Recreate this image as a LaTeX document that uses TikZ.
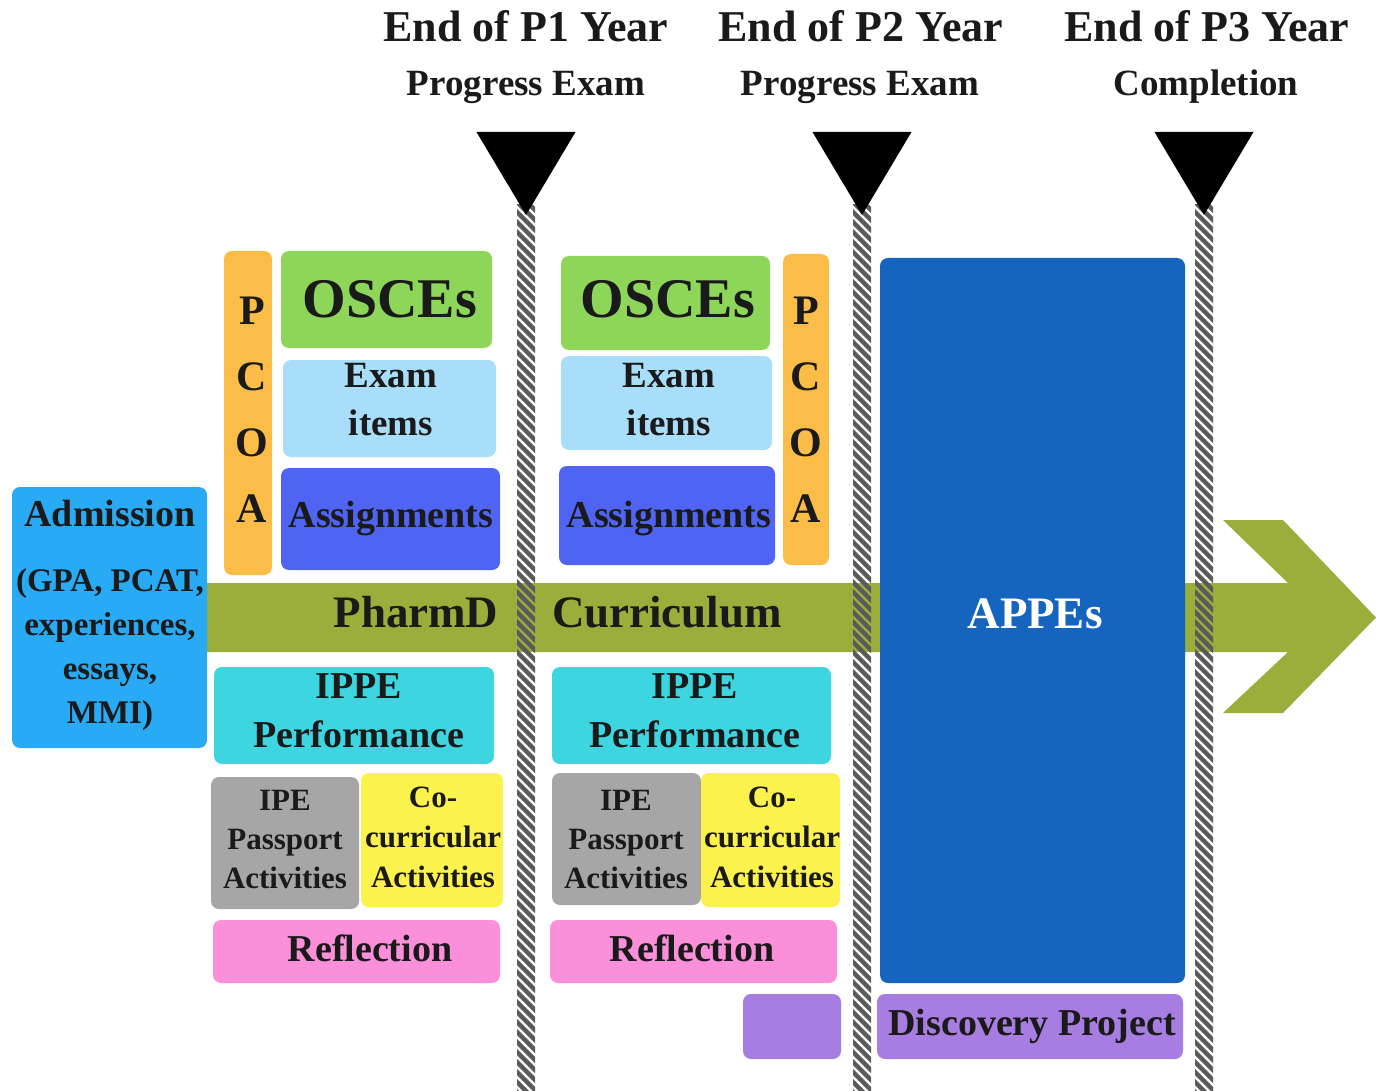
\documentclass[tikz,border=0pt]{standalone}
\usepackage{fontspec}
\setmainfont{Liberation Serif}
\definecolor{ink}{HTML}{1A1A1A}
\definecolor{pcoa}{HTML}{FBBD48}
\definecolor{osce}{HTML}{8ED65A}
\definecolor{exam}{HTML}{A9DEFB}
\definecolor{assign}{HTML}{4F64F2}
\definecolor{band}{HTML}{9BAE3C}
\definecolor{admit}{HTML}{29AAF5}
\definecolor{ippe}{HTML}{3DD5E0}
\definecolor{ipe}{HTML}{A6A6A6}
\definecolor{cocur}{HTML}{FCF24D}
\definecolor{refl}{HTML}{FC8FD9}
\definecolor{purp}{HTML}{A77DE1}
\definecolor{appe}{HTML}{1565BF}
\definecolor{stripe}{HTML}{5A5A5A}
\newcommand\fs[2]{\fontsize{#1pt}{#2pt}\selectfont\bfseries}
\newcommand\bx[6]{\node[bx, fill=#6, minimum width={(#4-#2)*0.5pt}, minimum height={(#5-#3)*0.5pt}] (#1) at ({(#2+#4)/2},{(#3+#5)/2}) {};}
\newcommand\pole[2]{%
  \begin{scope}
    \clip (#1-9,205) rectangle (#1+9,1091);
    \foreach \k in {0,...,92} \draw[line width=2.2pt, stripe] (#1-11,180+10*\k) -- ++(24,24);
  \end{scope}
  \coordinate (#2-top) at (#1,132);
  \fill (#1-49.5,132) -- (#1+49.5,132) -- (#1,215) -- cycle;}
\tikzset{
  bx/.style={rectangle, rounded corners=4pt, inner sep=0pt, draw=none},
  txt/.style={inner sep=0pt, align=center, text=ink, anchor=base},
}
\begin{document}
\begin{tikzpicture}[x=0.5pt,y=-0.5pt]
\useasboundingbox[fill=white] (0,0) rectangle (1376,1091);
% curriculum band with arrow
\fill[band] (207,583) -- (1288,583) -- (1223,520) -- (1283,520) -- (1376,617.5)
  -- (1283,713) -- (1223,713) -- (1288,652) -- (207,652) -- cycle;
% APPEs
\bx{appes}{880}{258}{1185}{983}{appe}
\node[txt, text=white, font=\fs{22.5}{27}] (t-appes) at (1035,628) {APPEs};
% poles and markers
\pole{526}{p1}
\pole{862}{p2}
\pole{1204}{p3}
% headers
\node[txt, font=\fs{22}{26}] (h1) at (526,42) {End of P1 Year};
\node[txt, font=\fs{18.5}{22}] (s1) at (526,96) {Progress Exam};
\node[txt, font=\fs{22}{26}] (h2) at (861,42) {End of P2 Year};
\node[txt, font=\fs{18.5}{22}] (s2) at (860,96) {Progress Exam};
\node[txt, font=\fs{22}{26}] (h3) at (1207,42) {End of P3 Year};
\node[txt, font=\fs{18.5}{22}] (s3) at (1206,96) {Completion};
% admission
\bx{admission}{12}{487}{207}{748}{admit}
\node[txt, font=\fs{19}{22}] (t-adm) at (110,526) {Admission};
\node[txt, font=\fs{16.5}{22}] (t-adm2) at (110,723) {(GPA, PCAT,\\experiences,\\essays,\\MMI)};
% band text
\node[txt, font=\fs{22.5}{27}] (t-pharmd) at (416,627) {PharmD};
\node[txt, font=\fs{22.5}{27}] (t-curr) at (667,627) {Curriculum};
% Year 1
\bx{pcoa1}{224}{251}{272}{575}{pcoa}
\node[txt, font=\fs{21}{33}] (t-pcoa1) at (252,522) {P\\C\\O\\A};
\bx{osce1}{281}{251}{492}{348}{osce}
\node[txt, font=\fs{28}{33}] (t-osce1) at (390,318) {OSCEs};
\bx{exam1}{283}{360}{496}{457}{exam}
\node[txt, font=\fs{18.5}{24}] (t-exam1) at (391,435) {Exam\\items};
\bx{assign1}{281}{468}{500}{570}{assign}
\node[txt, font=\fs{19}{23}] (t-assign1) at (391,527) {Assignments};
\bx{ippe1}{214}{667}{494}{764}{ippe}
\node[txt, font=\fs{19}{24.5}] (t-ippe1) at (359,747) {IPPE\\Performance};
\bx{ipe1}{211}{777}{359}{909}{ipe}
\node[txt, font=\fs{15.5}{19.5}] (t-ipe1) at (285,888) {IPE\\Passport\\Activities};
\bx{cocur1}{361}{773}{503}{907}{cocur}
\node[txt, font=\fs{15.5}{20}] (t-cocur1) at (433,887) {Co-\\curricular\\Activities};
\bx{refl1}{213}{920}{500}{983}{refl}
\node[txt, font=\fs{19}{23}] (t-refl1) at (370,961) {Reflection};
% Year 2
\bx{osce2}{561}{256}{770}{350}{osce}
\node[txt, font=\fs{28}{33}] (t-osce2) at (668,318) {OSCEs};
\bx{exam2}{561}{356}{772}{450}{exam}
\node[txt, font=\fs{18.5}{24}] (t-exam2) at (669,435) {Exam\\items};
\bx{assign2}{559}{466}{775}{565}{assign}
\node[txt, font=\fs{19}{23}] (t-assign2) at (669,527) {Assignments};
\bx{pcoa2}{783}{254}{829}{565}{pcoa}
\node[txt, font=\fs{21}{33}] (t-pcoa2) at (806,522) {P\\C\\O\\A};
\bx{ippe2}{552}{667}{831}{764}{ippe}
\node[txt, font=\fs{19}{24.5}] (t-ippe2) at (695,747) {IPPE\\Performance};
\bx{ipe2}{552}{773}{701}{905}{ipe}
\node[txt, font=\fs{15.5}{19.5}] (t-ipe2) at (626,888) {IPE\\Passport\\Activities};
\bx{cocur2}{701}{773}{840}{907}{cocur}
\node[txt, font=\fs{15.5}{20}] (t-cocur2) at (772,887) {Co-\\curricular\\Activities};
\bx{refl2}{550}{920}{837}{983}{refl}
\node[txt, font=\fs{19}{23}] (t-refl2) at (692,961) {Reflection};
\bx{purp2}{743}{994}{841}{1059}{purp}
% Year 3
\bx{disc}{877}{994}{1183}{1059}{purp}
\node[txt, font=\fs{19}{23}] (t-disc) at (1032,1035) {Discovery Project};
\end{tikzpicture}
\end{document}
